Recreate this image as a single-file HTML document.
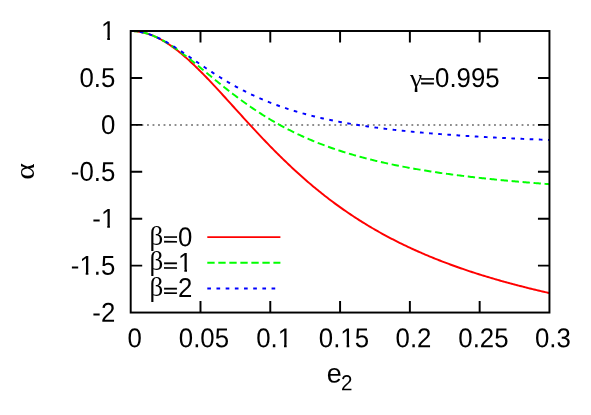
<!DOCTYPE html>
<html><head><meta charset="utf-8"><title>plot</title>
<style>
html,body{margin:0;padding:0;background:#fff;}
svg{display:block;will-change:transform;}
text{font-family:"Liberation Sans",sans-serif;font-size:25.8px;fill:#000;}
.sy{font-family:"Liberation Serif",serif;}
</style></head><body>
<svg width="591" height="415" viewBox="0 0 591 415">
<defs><clipPath id="one" clipPathUnits="userSpaceOnUse"><path d="M-2.00,-20.16 H15.12 V-2.71 H8.97 V2.00 H6.29 V-2.71 H-2.00 Z"/></clipPath></defs>
<rect x="0" y="0" width="591" height="415" fill="#fff"/>
<path d="M130.53,125.0 H549.45" stroke="#000" stroke-width="0.9" stroke-dasharray="1.836 3.672" fill="none"/>
<g fill="none" stroke-width="1.95" stroke-linejoin="round">
<path d="M130.70,31.00 L132.10,31.02 L133.49,31.07 L134.89,31.17 L136.28,31.30 L137.68,31.47 L139.07,31.67 L140.47,31.91 L141.86,32.19 L143.26,32.50 L144.65,32.85 L146.05,33.24 L147.44,33.66 L148.84,34.12 L150.23,34.61 L151.63,35.13 L153.03,35.70 L154.42,36.29 L155.82,36.92 L157.21,37.58 L158.61,38.27 L160.00,39.00 L161.40,39.76 L162.79,40.54 L164.19,41.36 L165.58,42.21 L166.98,43.09 L168.37,44.00 L169.77,44.93 L171.16,45.90 L172.56,46.89 L173.96,47.90 L175.35,48.94 L176.75,50.01 L178.14,51.10 L179.54,52.22 L180.93,53.36 L182.33,54.52 L183.72,55.70 L185.12,56.91 L186.51,58.13 L187.91,59.37 L189.30,60.64 L190.70,61.92 L192.09,63.22 L193.49,64.54 L194.89,65.87 L196.28,67.22 L197.68,68.58 L199.07,69.96 L200.47,71.35 L201.86,72.76 L203.26,74.17 L204.65,75.60 L206.05,77.04 L207.44,78.49 L208.84,79.95 L210.23,81.42 L211.63,82.90 L213.02,84.39 L214.42,85.88 L215.82,87.38 L217.21,88.89 L218.61,90.40 L220.00,91.92 L221.40,93.44 L222.79,94.97 L224.19,96.50 L225.58,98.03 L226.98,99.57 L228.37,101.11 L229.77,102.65 L231.16,104.19 L232.56,105.73 L233.95,107.27 L235.35,108.81 L236.75,110.35 L238.14,111.89 L239.54,113.43 L240.93,114.97 L242.33,116.51 L243.72,118.04 L245.12,119.57 L246.51,121.10 L247.91,122.62 L249.30,124.14 L250.70,125.66 L252.09,127.17 L253.49,128.67 L254.88,130.18 L256.28,131.67 L257.68,133.17 L259.07,134.65 L260.47,136.13 L261.86,137.61 L263.26,139.07 L264.65,140.53 L266.05,141.99 L267.44,143.44 L268.84,144.88 L270.23,146.31 L271.63,147.74 L273.02,149.16 L274.42,150.57 L275.81,151.97 L277.21,153.37 L278.61,154.76 L280.00,156.14 L281.40,157.51 L282.79,158.87 L284.19,160.23 L285.58,161.57 L286.98,162.91 L288.37,164.24 L289.77,165.56 L291.16,166.87 L292.56,168.18 L293.95,169.47 L295.35,170.76 L296.74,172.03 L298.14,173.30 L299.54,174.56 L300.93,175.81 L302.33,177.05 L303.72,178.28 L305.12,179.50 L306.51,180.72 L307.91,181.92 L309.30,183.12 L310.70,184.30 L312.09,185.48 L313.49,186.65 L314.88,187.81 L316.28,188.96 L317.67,190.10 L319.07,191.23 L320.47,192.35 L321.86,193.47 L323.26,194.57 L324.65,195.67 L326.05,196.75 L327.44,197.83 L328.84,198.90 L330.23,199.96 L331.63,201.02 L333.02,202.06 L334.42,203.10 L335.81,204.12 L337.21,205.14 L338.60,206.15 L340.00,207.15 L341.40,208.14 L342.79,209.13 L344.19,210.10 L345.58,211.07 L346.98,212.03 L348.37,212.98 L349.77,213.93 L351.16,214.86 L352.56,215.79 L353.95,216.71 L355.35,217.62 L356.74,218.52 L358.14,219.42 L359.53,220.31 L360.93,221.19 L362.33,222.06 L363.72,222.93 L365.12,223.79 L366.51,224.64 L367.91,225.48 L369.30,226.32 L370.70,227.15 L372.09,227.97 L373.49,228.78 L374.88,229.59 L376.28,230.39 L377.67,231.19 L379.07,231.98 L380.46,232.76 L381.86,233.53 L383.26,234.30 L384.65,235.06 L386.05,235.81 L387.44,236.56 L388.84,237.30 L390.23,238.04 L391.63,238.77 L393.02,239.49 L394.42,240.21 L395.81,240.92 L397.21,241.62 L398.60,242.32 L400.00,243.01 L401.39,243.70 L402.79,244.38 L404.19,245.05 L405.58,245.72 L406.98,246.39 L408.37,247.05 L409.77,247.70 L411.16,248.35 L412.56,248.99 L413.95,249.63 L415.35,250.26 L416.74,250.88 L418.14,251.50 L419.53,252.12 L420.93,252.73 L422.32,253.34 L423.72,253.94 L425.12,254.53 L426.51,255.12 L427.91,255.71 L429.30,256.29 L430.70,256.87 L432.09,257.44 L433.49,258.01 L434.88,258.57 L436.28,259.13 L437.67,259.68 L439.07,260.23 L440.46,260.78 L441.86,261.32 L443.25,261.85 L444.65,262.39 L446.05,262.92 L447.44,263.44 L448.84,263.96 L450.23,264.47 L451.63,264.99 L453.02,265.49 L454.42,266.00 L455.81,266.50 L457.21,267.00 L458.60,267.49 L460.00,267.98 L461.39,268.46 L462.79,268.94 L464.18,269.42 L465.58,269.89 L466.98,270.36 L468.37,270.83 L469.77,271.30 L471.16,271.76 L472.56,272.21 L473.95,272.67 L475.35,273.12 L476.74,273.56 L478.14,274.01 L479.53,274.45 L480.93,274.88 L482.32,275.32 L483.72,275.75 L485.11,276.18 L486.51,276.60 L487.91,277.02 L489.30,277.44 L490.70,277.86 L492.09,278.27 L493.49,278.68 L494.88,279.09 L496.28,279.49 L497.67,279.89 L499.07,280.29 L500.46,280.69 L501.86,281.08 L503.25,281.47 L504.65,281.86 L506.04,282.25 L507.44,282.63 L508.84,283.01 L510.23,283.39 L511.63,283.76 L513.02,284.14 L514.42,284.51 L515.81,284.88 L517.21,285.24 L518.60,285.60 L520.00,285.97 L521.39,286.32 L522.79,286.68 L524.18,287.04 L525.58,287.39 L526.97,287.74 L528.37,288.09 L529.77,288.43 L531.16,288.77 L532.56,289.12 L533.95,289.45 L535.35,289.79 L536.74,290.13 L538.14,290.46 L539.53,290.79 L540.93,291.12 L542.32,291.45 L543.72,291.77 L545.11,292.10 L546.51,292.42 L547.90,292.74 L549.30,293.06" stroke="#ff0000"/>
<path d="M130.70,31.00 L132.10,31.02 L133.49,31.08 L134.89,31.17 L136.28,31.30 L137.68,31.47 L139.07,31.68 L140.47,31.92 L141.86,32.20 L143.26,32.51 L144.65,32.87 L146.05,33.25 L147.44,33.67 L148.84,34.13 L150.23,34.62 L151.63,35.14 L153.03,35.70 L154.42,36.28 L155.82,36.90 L157.21,37.55 L158.61,38.22 L160.00,38.93 L161.40,39.66 L162.79,40.42 L164.19,41.20 L165.58,42.01 L166.98,42.85 L168.37,43.71 L169.77,44.59 L171.16,45.49 L172.56,46.41 L173.96,47.35 L175.35,48.32 L176.75,49.29 L178.14,50.29 L179.54,51.30 L180.93,52.33 L182.33,53.37 L183.72,54.42 L185.12,55.48 L186.51,56.56 L187.91,57.65 L189.30,58.74 L190.70,59.85 L192.09,60.96 L193.49,62.08 L194.89,63.21 L196.28,64.34 L197.68,65.48 L199.07,66.62 L200.47,67.76 L201.86,68.91 L203.26,70.06 L204.65,71.21 L206.05,72.36 L207.44,73.51 L208.84,74.66 L210.23,75.81 L211.63,76.96 L213.02,78.11 L214.42,79.25 L215.82,80.39 L217.21,81.53 L218.61,82.66 L220.00,83.79 L221.40,84.92 L222.79,86.03 L224.19,87.15 L225.58,88.26 L226.98,89.36 L228.37,90.45 L229.77,91.54 L231.16,92.63 L232.56,93.70 L233.95,94.77 L235.35,95.83 L236.75,96.88 L238.14,97.93 L239.54,98.96 L240.93,99.99 L242.33,101.01 L243.72,102.02 L245.12,103.02 L246.51,104.01 L247.91,105.00 L249.30,105.97 L250.70,106.94 L252.09,107.90 L253.49,108.84 L254.88,109.78 L256.28,110.71 L257.68,111.63 L259.07,112.54 L260.47,113.44 L261.86,114.34 L263.26,115.22 L264.65,116.09 L266.05,116.95 L267.44,117.81 L268.84,118.65 L270.23,119.49 L271.63,120.32 L273.02,121.13 L274.42,121.94 L275.81,122.74 L277.21,123.53 L278.61,124.31 L280.00,125.08 L281.40,125.84 L282.79,126.60 L284.19,127.34 L285.58,128.08 L286.98,128.81 L288.37,129.53 L289.77,130.24 L291.16,130.94 L292.56,131.63 L293.95,132.32 L295.35,132.99 L296.74,133.66 L298.14,134.32 L299.54,134.98 L300.93,135.62 L302.33,136.26 L303.72,136.89 L305.12,137.51 L306.51,138.12 L307.91,138.73 L309.30,139.33 L310.70,139.92 L312.09,140.50 L313.49,141.08 L314.88,141.65 L316.28,142.22 L317.67,142.77 L319.07,143.32 L320.47,143.86 L321.86,144.40 L323.26,144.93 L324.65,145.45 L326.05,145.97 L327.44,146.48 L328.84,146.98 L330.23,147.48 L331.63,147.97 L333.02,148.46 L334.42,148.94 L335.81,149.41 L337.21,149.88 L338.60,150.34 L340.00,150.80 L341.40,151.25 L342.79,151.70 L344.19,152.14 L345.58,152.57 L346.98,153.00 L348.37,153.42 L349.77,153.84 L351.16,154.26 L352.56,154.67 L353.95,155.07 L355.35,155.47 L356.74,155.87 L358.14,156.26 L359.53,156.64 L360.93,157.02 L362.33,157.40 L363.72,157.77 L365.12,158.14 L366.51,158.50 L367.91,158.86 L369.30,159.22 L370.70,159.57 L372.09,159.92 L373.49,160.26 L374.88,160.60 L376.28,160.93 L377.67,161.26 L379.07,161.59 L380.46,161.91 L381.86,162.23 L383.26,162.55 L384.65,162.86 L386.05,163.17 L387.44,163.47 L388.84,163.78 L390.23,164.07 L391.63,164.37 L393.02,164.66 L394.42,164.95 L395.81,165.24 L397.21,165.52 L398.60,165.80 L400.00,166.07 L401.39,166.35 L402.79,166.62 L404.19,166.88 L405.58,167.15 L406.98,167.41 L408.37,167.67 L409.77,167.92 L411.16,168.17 L412.56,168.42 L413.95,168.67 L415.35,168.92 L416.74,169.16 L418.14,169.40 L419.53,169.64 L420.93,169.87 L422.32,170.10 L423.72,170.33 L425.12,170.56 L426.51,170.78 L427.91,171.01 L429.30,171.23 L430.70,171.45 L432.09,171.66 L433.49,171.87 L434.88,172.09 L436.28,172.30 L437.67,172.50 L439.07,172.71 L440.46,172.91 L441.86,173.11 L443.25,173.31 L444.65,173.51 L446.05,173.70 L447.44,173.90 L448.84,174.09 L450.23,174.28 L451.63,174.46 L453.02,174.65 L454.42,174.83 L455.81,175.02 L457.21,175.20 L458.60,175.38 L460.00,175.55 L461.39,175.73 L462.79,175.90 L464.18,176.07 L465.58,176.24 L466.98,176.41 L468.37,176.58 L469.77,176.75 L471.16,176.91 L472.56,177.07 L473.95,177.23 L475.35,177.39 L476.74,177.55 L478.14,177.71 L479.53,177.86 L480.93,178.02 L482.32,178.17 L483.72,178.32 L485.11,178.47 L486.51,178.62 L487.91,178.77 L489.30,178.91 L490.70,179.06 L492.09,179.20 L493.49,179.34 L494.88,179.48 L496.28,179.62 L497.67,179.76 L499.07,179.90 L500.46,180.04 L501.86,180.17 L503.25,180.31 L504.65,180.44 L506.04,180.57 L507.44,180.70 L508.84,180.83 L510.23,180.96 L511.63,181.09 L513.02,181.21 L514.42,181.34 L515.81,181.46 L517.21,181.59 L518.60,181.71 L520.00,181.83 L521.39,181.95 L522.79,182.07 L524.18,182.19 L525.58,182.31 L526.97,182.42 L528.37,182.54 L529.77,182.65 L531.16,182.77 L532.56,182.88 L533.95,182.99 L535.35,183.10 L536.74,183.21 L538.14,183.32 L539.53,183.43 L540.93,183.54 L542.32,183.65 L543.72,183.76 L545.11,183.86 L546.51,183.97 L547.90,184.07 L549.30,184.17" stroke="#00ff00" stroke-dasharray="7.344 3.672"/>
<path d="M130.70,31.00 L132.10,31.02 L133.49,31.08 L134.89,31.17 L136.28,31.30 L137.68,31.47 L139.07,31.67 L140.47,31.92 L141.86,32.19 L143.26,32.51 L144.65,32.85 L146.05,33.23 L147.44,33.65 L148.84,34.10 L150.23,34.58 L151.63,35.09 L153.03,35.63 L154.42,36.20 L155.82,36.80 L157.21,37.42 L158.61,38.07 L160.00,38.75 L161.40,39.45 L162.79,40.17 L164.19,40.92 L165.58,41.68 L166.98,42.47 L168.37,43.27 L169.77,44.09 L171.16,44.93 L172.56,45.78 L173.96,46.65 L175.35,47.53 L176.75,48.42 L178.14,49.32 L179.54,50.23 L180.93,51.15 L182.33,52.08 L183.72,53.02 L185.12,53.96 L186.51,54.90 L187.91,55.85 L189.30,56.81 L190.70,57.76 L192.09,58.72 L193.49,59.68 L194.89,60.63 L196.28,61.59 L197.68,62.55 L199.07,63.50 L200.47,64.46 L201.86,65.40 L203.26,66.35 L204.65,67.29 L206.05,68.23 L207.44,69.16 L208.84,70.09 L210.23,71.01 L211.63,71.92 L213.02,72.83 L214.42,73.73 L215.82,74.63 L217.21,75.51 L218.61,76.39 L220.00,77.26 L221.40,78.13 L222.79,78.98 L224.19,79.83 L225.58,80.67 L226.98,81.50 L228.37,82.32 L229.77,83.13 L231.16,83.93 L232.56,84.72 L233.95,85.50 L235.35,86.28 L236.75,87.04 L238.14,87.80 L239.54,88.54 L240.93,89.28 L242.33,90.01 L243.72,90.73 L245.12,91.43 L246.51,92.13 L247.91,92.82 L249.30,93.50 L250.70,94.18 L252.09,94.84 L253.49,95.49 L254.88,96.13 L256.28,96.77 L257.68,97.40 L259.07,98.01 L260.47,98.62 L261.86,99.22 L263.26,99.81 L264.65,100.40 L266.05,100.97 L267.44,101.54 L268.84,102.09 L270.23,102.64 L271.63,103.19 L273.02,103.72 L274.42,104.25 L275.81,104.76 L277.21,105.28 L278.61,105.78 L280.00,106.27 L281.40,106.76 L282.79,107.24 L284.19,107.72 L285.58,108.18 L286.98,108.64 L288.37,109.10 L289.77,109.54 L291.16,109.98 L292.56,110.42 L293.95,110.84 L295.35,111.27 L296.74,111.68 L298.14,112.09 L299.54,112.49 L300.93,112.89 L302.33,113.28 L303.72,113.66 L305.12,114.04 L306.51,114.41 L307.91,114.78 L309.30,115.14 L310.70,115.50 L312.09,115.85 L313.49,116.20 L314.88,116.54 L316.28,116.88 L317.67,117.21 L319.07,117.54 L320.47,117.86 L321.86,118.18 L323.26,118.49 L324.65,118.80 L326.05,119.10 L327.44,119.40 L328.84,119.70 L330.23,119.99 L331.63,120.28 L333.02,120.56 L334.42,120.84 L335.81,121.11 L337.21,121.39 L338.60,121.65 L340.00,121.92 L341.40,122.18 L342.79,122.43 L344.19,122.69 L345.58,122.94 L346.98,123.18 L348.37,123.42 L349.77,123.66 L351.16,123.90 L352.56,124.13 L353.95,124.36 L355.35,124.59 L356.74,124.81 L358.14,125.03 L359.53,125.25 L360.93,125.46 L362.33,125.67 L363.72,125.88 L365.12,126.09 L366.51,126.29 L367.91,126.49 L369.30,126.69 L370.70,126.89 L372.09,127.08 L373.49,127.27 L374.88,127.46 L376.28,127.64 L377.67,127.83 L379.07,128.01 L380.46,128.19 L381.86,128.36 L383.26,128.54 L384.65,128.71 L386.05,128.88 L387.44,129.05 L388.84,129.21 L390.23,129.37 L391.63,129.54 L393.02,129.69 L394.42,129.85 L395.81,130.01 L397.21,130.16 L398.60,130.31 L400.00,130.46 L401.39,130.61 L402.79,130.76 L404.19,130.90 L405.58,131.04 L406.98,131.18 L408.37,131.32 L409.77,131.46 L411.16,131.60 L412.56,131.73 L413.95,131.87 L415.35,132.00 L416.74,132.13 L418.14,132.25 L419.53,132.38 L420.93,132.51 L422.32,132.63 L423.72,132.75 L425.12,132.88 L426.51,132.99 L427.91,133.11 L429.30,133.23 L430.70,133.35 L432.09,133.46 L433.49,133.57 L434.88,133.69 L436.28,133.80 L437.67,133.91 L439.07,134.01 L440.46,134.12 L441.86,134.23 L443.25,134.33 L444.65,134.44 L446.05,134.54 L447.44,134.64 L448.84,134.74 L450.23,134.84 L451.63,134.94 L453.02,135.04 L454.42,135.13 L455.81,135.23 L457.21,135.32 L458.60,135.42 L460.00,135.51 L461.39,135.60 L462.79,135.69 L464.18,135.78 L465.58,135.87 L466.98,135.96 L468.37,136.04 L469.77,136.13 L471.16,136.22 L472.56,136.30 L473.95,136.38 L475.35,136.47 L476.74,136.55 L478.14,136.63 L479.53,136.71 L480.93,136.79 L482.32,136.87 L483.72,136.95 L485.11,137.02 L486.51,137.10 L487.91,137.18 L489.30,137.25 L490.70,137.33 L492.09,137.40 L493.49,137.47 L494.88,137.55 L496.28,137.62 L497.67,137.69 L499.07,137.76 L500.46,137.83 L501.86,137.90 L503.25,137.97 L504.65,138.03 L506.04,138.10 L507.44,138.17 L508.84,138.24 L510.23,138.30 L511.63,138.37 L513.02,138.43 L514.42,138.49 L515.81,138.56 L517.21,138.62 L518.60,138.68 L520.00,138.74 L521.39,138.81 L522.79,138.87 L524.18,138.93 L525.58,138.99 L526.97,139.05 L528.37,139.10 L529.77,139.16 L531.16,139.22 L532.56,139.28 L533.95,139.33 L535.35,139.39 L536.74,139.45 L538.14,139.50 L539.53,139.56 L540.93,139.61 L542.32,139.67 L543.72,139.72 L545.11,139.77 L546.51,139.83 L547.90,139.88 L549.30,139.93" stroke="#0000ff" stroke-dasharray="3.664 5.496"/>
<path d="M207.3,237.1 H280.4" stroke="#ff0000"/>
<path d="M207.3,262.7 H280.4" stroke="#00ff00" stroke-dasharray="7.344 3.672"/>
<path d="M207.3,288.4 H280.4" stroke="#0000ff" stroke-dasharray="3.672 5.508"/>
</g>
<g fill="none" stroke="#000" stroke-width="1.95">
<path d="M200.49,312.55 v-11.5 M200.49,31.0 v11.5 M130.7,77.93 h11.5 M549.45,77.93 h-11.5 M270.28,312.55 v-11.5 M270.28,31.0 v11.5 M130.7,124.85 h11.5 M549.45,124.85 h-11.5 M340.08,312.55 v-11.5 M340.08,31.0 v11.5 M130.7,171.78 h11.5 M549.45,171.78 h-11.5 M409.87,312.55 v-11.5 M409.87,31.0 v11.5 M130.7,218.70 h11.5 M549.45,218.70 h-11.5 M479.66,312.55 v-11.5 M479.66,31.0 v11.5 M130.7,265.62 h11.5 M549.45,265.62 h-11.5 "/>
<rect x="130.7" y="31.0" width="418.75" height="281.55"/>
</g>
<text transform="translate(127.40 347.30) rotate(0.03) scale(1.0 1.055)">0</text>
<text transform="translate(178.80 347.30) rotate(0.03) scale(1.0 1.055)">0.05</text>
<text transform="translate(256.20 347.30) rotate(0.03) scale(1.0 1.055)">0.</text>
<text transform="translate(277.72 347.30) rotate(0.03) scale(1.0 1.055)" clip-path="url(#one)">1</text>
<text transform="translate(318.80 347.30) rotate(0.03) scale(1.0 1.055)">0.</text>
<text transform="translate(340.32 347.30) rotate(0.03) scale(1.0 1.055)" clip-path="url(#one)">1</text>
<text transform="translate(354.67 347.30) rotate(0.03) scale(1.0 1.055)">5</text>
<text transform="translate(395.60 347.30) rotate(0.03) scale(1.0 1.055)">0.2</text>
<text transform="translate(458.30 347.30) rotate(0.03) scale(1.0 1.055)">0.25</text>
<text transform="translate(535.00 347.30) rotate(0.03) scale(1.0 1.055)">0.3</text>
<text transform="translate(100.95 40.10) rotate(0.03) scale(1.0 1.055)" clip-path="url(#one)">1</text>
<text transform="translate(79.43 87.02) rotate(0.03) scale(1.0 1.055)">0.5</text>
<text transform="translate(100.95 133.95) rotate(0.03) scale(1.0 1.055)">0</text>
<text transform="translate(70.84 180.87) rotate(0.03) scale(1.0 1.055)">-0.5</text>
<text transform="translate(92.36 227.80) rotate(0.03) scale(1.0 1.055)">-</text>
<text transform="translate(100.95 227.80) rotate(0.03) scale(1.0 1.055)" clip-path="url(#one)">1</text>
<text transform="translate(70.84 274.73) rotate(0.03) scale(1.0 1.055)">-</text>
<text transform="translate(79.43 274.73) rotate(0.03) scale(1.0 1.055)" clip-path="url(#one)">1</text>
<text transform="translate(93.78 274.73) rotate(0.03) scale(1.0 1.055)">.5</text>
<text transform="translate(92.36 321.65) rotate(0.03) scale(1.0 1.055)">-2</text>
<text transform="translate(149.60 245.00) scale(1.05 1.08)" class="sy">β</text>
<text transform="translate(163.00 245.59) rotate(0.03) scale(1 0.716)" stroke="#000" stroke-width="0.55">=</text>
<text transform="translate(178.07 246.25) rotate(0.03) scale(1.0 1.055)">0</text>
<text transform="translate(149.60 270.00) scale(1.05 1.08)" class="sy">β</text>
<text transform="translate(163.00 271.79) rotate(0.03) scale(1 0.716)" stroke="#000" stroke-width="0.55">=</text>
<text transform="translate(178.07 271.75) rotate(0.03) scale(1.0 1.055)" clip-path="url(#one)">1</text>
<text transform="translate(149.60 296.00) scale(1.05 1.08)" class="sy">β</text>
<text transform="translate(163.00 296.89) rotate(0.03) scale(1 0.716)" stroke="#000" stroke-width="0.55">=</text>
<text transform="translate(178.07 297.00) rotate(0.03) scale(1.0 1.055)">2</text>
<text transform="translate(410.10 87.00) scale(1.07 1.0)" class="sy">γ</text>
<text transform="translate(420.00 87.29) rotate(0.03) scale(1 0.716)" stroke="#000" stroke-width="0.55">=</text>
<text transform="translate(435.07 87.10) rotate(0.03) scale(1.0 1.055)">0.995</text>
<text transform="translate(326.7 382.5) rotate(0.03) scale(1.05 1.055)">e</text>
<text transform="translate(340.9 390.25) rotate(0.03) scale(1 1.055)" style="font-size:20.64px">2</text>
<text class="sy" transform="translate(34.3 171.55) rotate(-90) scale(1.23 1.10)" text-anchor="middle">α</text>
</svg>
</body></html>
